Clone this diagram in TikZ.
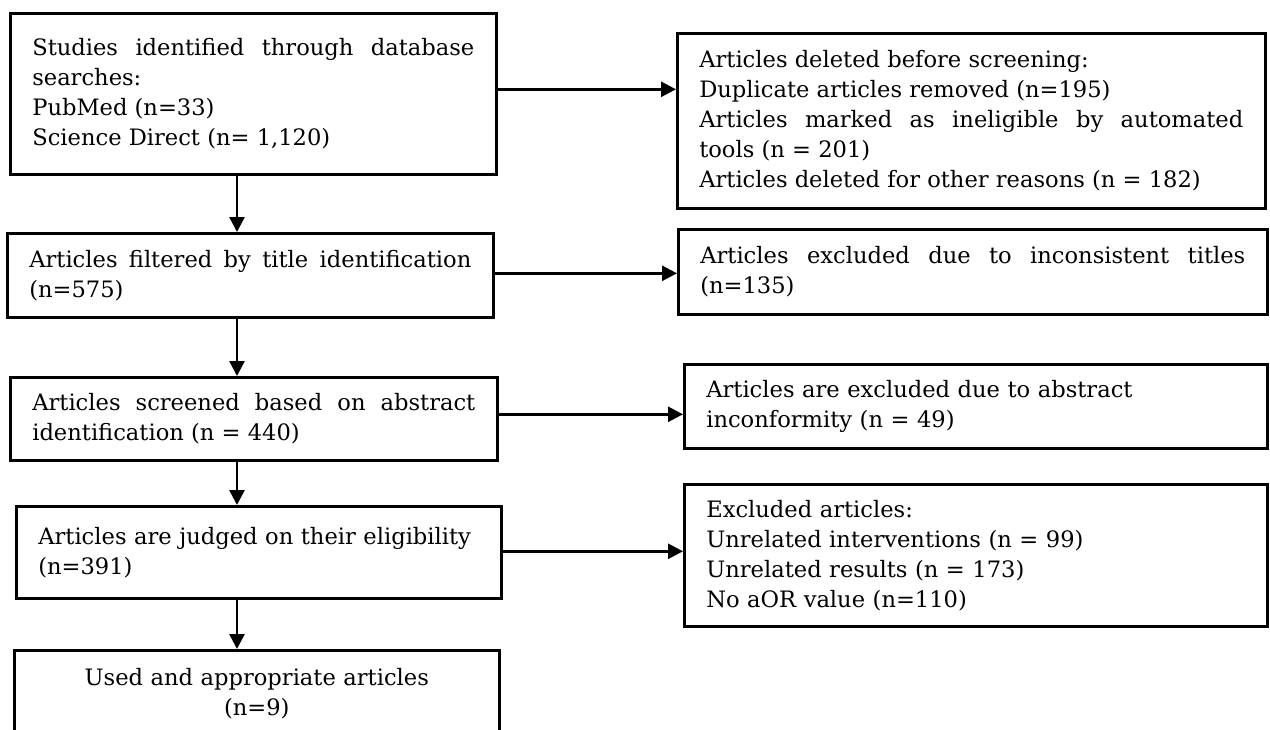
\documentclass[tikz,border=0pt]{standalone}
\usepackage{fontspec}
\setmainfont{DejaVu Serif}
\usetikzlibrary{arrows.meta}

\tikzset{
  box/.style={draw, line width=1.3pt, anchor=north west, inner xsep=11pt, inner ysep=0pt,
    font=\fontsize{11.3}{15}\selectfont, align=justify},
  flow/.style={-{Triangle[length=7.5pt,width=7.5pt]}, line width=1.3pt},
}

\begin{document}
\begin{tikzpicture}[x=0.5pt, y=-0.5pt, line join=miter]
  \useasboundingbox (0,0) rectangle (1270,729);
  \clip (0,0) rectangle (1270,729);
  % main column
  \node[box, text width=221pt, minimum height=80.5pt] (b1) at (9,12)
    {Studies identified through database searches:\\ PubMed (n=33)\\ Science Direct (n= 1,120)};
  \node[box, text width=221pt, minimum height=42pt] (b2) at (6,232)
    {Articles filtered by title identification (n=575)};
  \node[box, text width=221.5pt, minimum height=41.5pt] (b3) at (9,376)
    {Articles screened based on abstract identification (n = 440)};
  \node[box, align=left, text width=220.5pt, minimum height=46pt] (b4) at (15,505)
    {Articles are judged on their eligibility\\ (n=391)};
  \node[box, align=center, text width=220.5pt, minimum height=43pt] (b5) at (13,649)
    {Used and appropriate articles\\ (n=9)};
  % exclusions
  \node[box, text width=272pt, minimum height=87.5pt] (r1) at (676,32)
    {Articles deleted before screening:\\ Duplicate articles removed (n=195)\\ Articles marked as ineligible by automated\linebreak tools (n = 201)\\ Articles deleted for other reasons (n = 182)};
  \node[box, text width=272.5pt, minimum height=42.5pt] (r2) at (677,228)
    {Articles excluded due to inconsistent titles (n=135)};
  \node[box, align=left, text width=269.5pt, minimum height=42pt] (r3) at (683,363)
    {Articles are excluded due to abstract\\ inconformity (n = 49)};
  \node[box, align=left, text width=269.5pt, minimum height=71pt] (r4) at (683,483)
    {Excluded articles:\\ Unrelated interventions (n = 99)\\ Unrelated results (n = 173)\\ No aOR value (n=110)};

  \coordinate (spine) at (237,0);
  \foreach \src/\dst in {b1/b2, b2/b3, b3/b4, b4/b5}
    \draw[flow] (\src.south -| spine) -- (\dst.north -| spine);
  \foreach \src/\dst/\dy in {b1/r1/2.25, b2/r2/1, b3/r3/2.25, b4/r4/0.5} {
    \coordinate (tail) at ([yshift=\dy pt]\src.east);
    \draw[flow] (tail) -- (tail -| \dst.west);
  }
\end{tikzpicture}
\end{document}
